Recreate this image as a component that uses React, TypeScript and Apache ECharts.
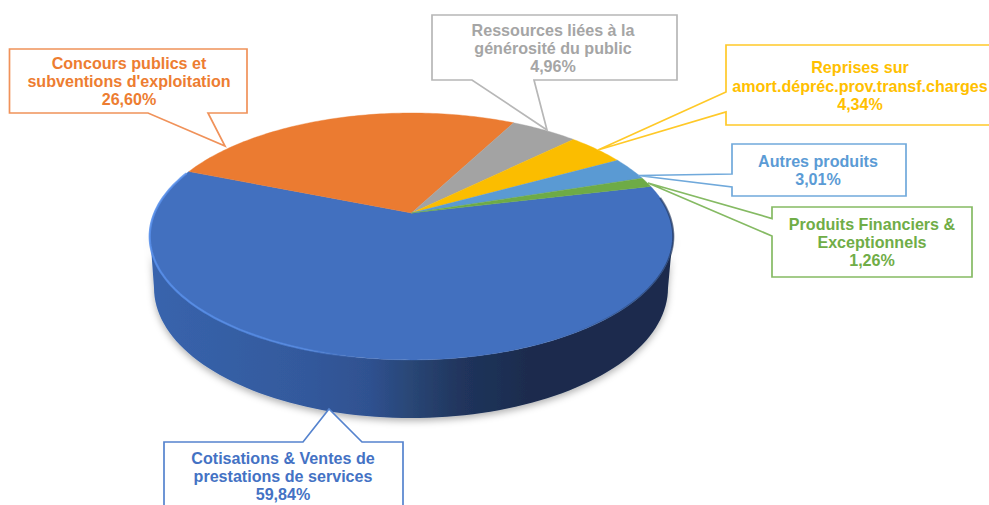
import React, { useEffect, useRef } from "react";
import * as echarts from "echarts";

const categories = [
  "Cotisations & Ventes de\nprestations de services",
  "Concours publics et\nsubventions d'exploitation",
  "Ressources liées à la\ngénérosité du public",
  "Reprises sur\namort.dépréc.prov.transf.charges",
  "Autres produits",
  "Produits Financiers &\nExceptionnels",
];
const shares = [59.84, 26.6, 4.96, 4.34, 3.01, 1.26];
const sliceColors = ["#4270BF", "#EB7B31", "#A3A3A3", "#FBBD00", "#5A9AD3", "#6EAB46"];
const textColors = ["#4472C4", "#ED7D31", "#A5A5A5", "#FFC000", "#5B9BD5", "#70AD47"];
const borderColors = ["#5583CE", "#F0925A", "#B7B7B7", "#FFC928", "#70A9DB", "#85BA63"];

// callout outlines and text anchors (layout only)
const callouts: number[][][] = [
  [[164, 442], [303, 442], [329, 409], [362, 442], [403, 442], [403, 520], [164, 520]],
  [[9.5, 49], [247, 49], [247, 113], [208, 113], [225, 146], [148, 113], [9.5, 113]],
  [[432, 15], [677, 15], [677, 80], [534, 80], [547, 130], [472, 80], [432, 80]],
  [[726, 45], [1000, 45], [1000, 125], [726, 125], [726, 112], [598, 150], [726, 92]],
  [[732, 144], [906, 144], [906, 196], [732, 196], [732, 187], [638, 175.5], [732, 174]],
  [[772, 207], [972, 207], [972, 277], [772, 277], [772, 236], [648, 183], [772, 218.5]],
];
const textAnchors = [
  [283, 476],
  [129, 81],
  [553, 48],
  [860, 85.5],
  [818, 170],
  [872, 242],
];

const START_DEG = -13.5;
const APEX_X = 411.5;
const APEX_Y = 213;
const WIDTH = 257;
const HEIGHT = 119;
const PERSP = 0.19;

const project = (deg: number) => {
  const r = (deg * Math.PI) / 180;
  const x = Math.cos(r);
  const y = Math.sin(r);
  const d = 1 - PERSP * y;
  return [APEX_X + (WIDTH * x) / d, APEX_Y + (HEIGHT * y) / d];
};

const arcPoints = (from: number, to: number) => {
  const pts: number[][] = [];
  const n = Math.max(2, Math.ceil(Math.abs(to - from)));
  for (let i = 0; i <= n; i++) pts.push(project(from + ((to - from) * i) / n));
  return pts;
};

const total = shares.reduce((a, b) => a + b, 0);

const wallPoints = () => {
  const top = arcPoints(-8, 188).filter((p) => p[1] >= 232);
  const cx = 411;
  const cy = 288;
  const rx = 257;
  const ry = 130;
  const bottom: number[][] = [];
  for (let a = 180; a >= 0; a -= 2) {
    const r = (a * Math.PI) / 180;
    bottom.push([cx + rx * Math.cos(r), cy + ry * Math.sin(r)]);
  }
  return [...top, ...bottom];
};

const hGrad = (stops: [number, string][]) =>
  new echarts.graphic.LinearGradient(0, 0, 1, 0, stops.map(([offset, color]) => ({ offset, color })));

export default function App() {
  const ref = useRef<HTMLDivElement>(null);
  useEffect(() => {
    document.body.style.margin = "0";
    document.body.style.overflow = "hidden";
    const chart = echarts.init(ref.current!, undefined, { renderer: "svg" });
    const graphics: any[] = [];
    categories.forEach((name, i) => {
      graphics.push({
        type: "polygon",
        shape: { points: callouts[i] },
        style: { fill: "#fff", stroke: borderColors[i], lineWidth: 1.7, lineJoin: "miter" },
        z: 10,
      });
      const pct = shares[i].toFixed(2).replace(".", ",") + "%";
      graphics.push({
        type: "text",
        x: textAnchors[i][0],
        y: textAnchors[i][1],
        style: {
          text: `${name}\n${pct}`,
          fill: textColors[i],
          font: 'bold 16.1px "Liberation Sans", Arial, sans-serif',
          lineHeight: 18.4,
          align: "center",
          verticalAlign: "middle",
        },
        z: 11,
      });
    });
    chart.setOption({
      animation: false,
      graphic: { elements: graphics },
      series: [
        {
          type: "custom",
          coordinateSystem: "none",
          silent: true,
          z: 2,
          data: shares.map((value) => [value]),
          renderItem: (params: any, api: any) => {
            const i = params.dataIndex;
            const value = api.value(0);
            const before = shares.slice(0, i).reduce((a, b) => a + b, 0);
            const from = START_DEG + (before / total) * 360;
            const to = from + (value / total) * 360;
            const arc = arcPoints(from, to);
            const color = sliceColors[i];
            const children: any[] = [];
            if (i === 0) {
              children.push({
                type: "polygon",
                shape: { points: wallPoints() },
                style: {
                  fill: hGrad([
                    [0, "#3864AD"],
                    [0.3, "#33599C"],
                    [0.42, "#2F5190"],
                    [0.5, "#294675"],
                    [0.6, "#20345C"],
                    [0.72, "#1A2C4E"],
                    [1, "#1A2C4E"],
                  ]),
                  shadowColor: "rgba(0,0,0,0.3)",
                  shadowBlur: 7,
                  shadowOffsetY: 3,
                  shadowOffsetX: 0,
                },
              });
            }
            children.push({
              type: "polygon",
              shape: { points: [[APEX_X, APEX_Y], ...arc] },
              style: { fill: color, stroke: color, lineWidth: 0.4 },
            });
            if (i === 0) {
              children.push({
                type: "polyline",
                shape: { points: arcPoints(from + 6, to - 1) },
                style: {
                  fill: "none",
                  lineWidth: 2.2,
                  stroke: hGrad([
                    [0, "rgba(88,144,236,0.85)"],
                    [0.3, "rgba(88,144,236,0.6)"],
                    [0.42, "rgba(66,112,191,0)"],
                    [0.8, "rgba(26,44,78,0.05)"],
                    [1, "rgba(26,44,78,0.6)"],
                  ]),
                },
              });
            }
            return { type: "group", children };
          },
        },
      ],
    });
    return () => chart.dispose();
  }, []);
  return <div ref={ref} style={{ position: "absolute", left: 0, top: 0, width: 989, height: 505, background: "#fff" }} />;
}
